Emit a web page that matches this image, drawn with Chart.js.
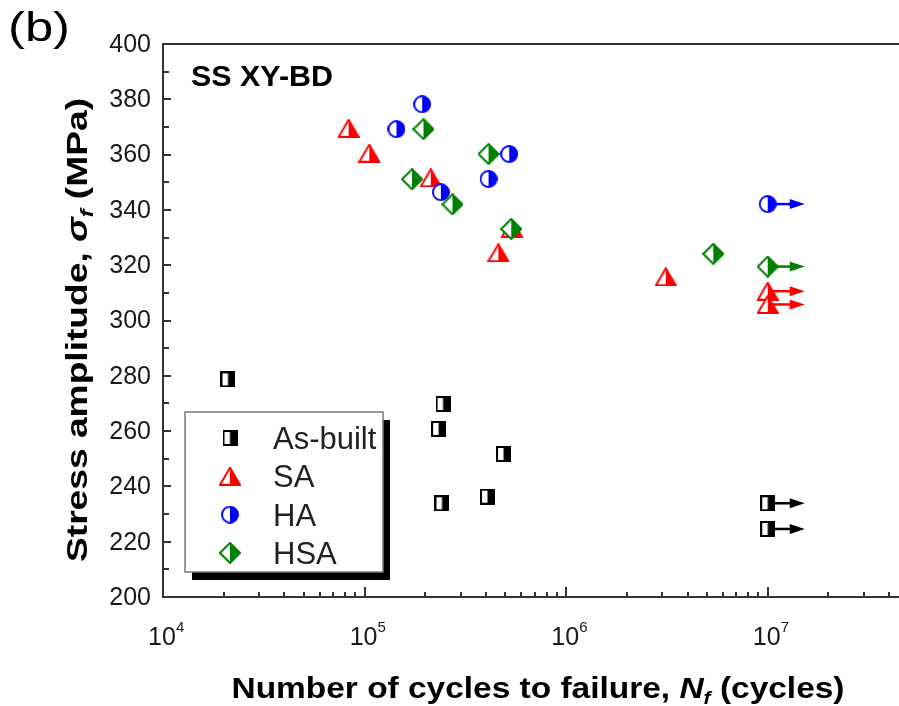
<!DOCTYPE html>
<html>
<head>
<meta charset="utf-8">
<script src="https://cdn.jsdelivr.net/npm/chart.js@4.4.0/dist/chart.umd.min.js"></script>
<style>
  body { margin: 0; background: #fff; }
  #wrap { width: 899px; height: 706px; }
</style>
</head>
<body>
<div id="wrap"><canvas id="snChart" width="899" height="706"></canvas></div>
<script>
// S-N data: cycles to failure and stress amplitude (MPa)
const asBuiltN = [2.1e4, 2.45e5, 2.33e5, 4.89e5, 4.07e5, 2.42e5, 1e7, 1e7];
const asBuiltS = [278.7, 269.8, 260.8, 251.7, 236.3, 233.9, 233.9, 224.6];
const asBuiltRunout = [false, false, false, false, false, false, true, true];

const saN = [8.33e4, 1.055e5, 2.13e5, 5.38e5, 4.61e5, 3.12e6, 1e7, 1e7];
const saS = [369.5, 360.5, 351.6, 333.3, 324.5, 315.8, 310.6, 305.8];
const saRunout = [false, false, false, false, false, false, true, true];

const haN = [1.93e5, 1.44e5, 5.22e5, 4.12e5, 2.39e5, 1e7];
const haS = [378.2, 369.2, 360.2, 351.2, 346.4, 342.1];
const haRunout = [false, false, false, false, false, true];

const hsaN = [1.96e5, 4.12e5, 1.72e5, 2.73e5, 5.34e5, 5.37e6, 1e7];
const hsaS = [369.2, 360.2, 351.1, 342.0, 333.1, 324.1, 319.5];
const hsaRunout = [false, false, false, false, false, false, true];

const seriesNames = ["As-built", "SA", "HA", "HSA"];
const seriesColors = ["#000000", "#ff0000", "#0000ff", "#008000"];
const yTickValues = [200, 220, 240, 260, 280, 300, 320, 340, 360, 380, 400];
const xDecades = [4, 5, 6, 7];

// half-filled marker images (left half open, right half solid)
function makeMarker(kind, color, w, h) {
  const c = document.createElement("canvas");
  c.width = w;
  c.height = h;
  const g = c.getContext("2d");
  const path = () => {
    g.beginPath();
    if (kind === "square") {
      g.rect(1, 1, w - 2, h - 2);
    } else if (kind === "triangle") {
      g.moveTo(w / 2, 1);
      g.lineTo(w - 1, h - 1);
      g.lineTo(1, h - 1);
      g.closePath();
    } else if (kind === "circle") {
      g.arc(w / 2, h / 2, w / 2 - 1, 0, Math.PI * 2);
    } else {
      g.moveTo(w / 2, 1);
      g.lineTo(w - 1, h / 2);
      g.lineTo(w / 2, h - 1);
      g.lineTo(1, h / 2);
      g.closePath();
    }
  };
  path();
  g.fillStyle = "#fff";
  g.fill();
  g.save();
  g.beginPath();
  g.rect(w / 2, 0, w / 2, h);
  g.clip();
  path();
  g.fillStyle = color;
  g.fill();
  g.restore();
  path();
  g.lineWidth = 2;
  g.strokeStyle = color;
  g.stroke();
  return c;
}

const markers = [
  makeMarker("square", seriesColors[0], 15, 16),
  makeMarker("triangle", seriesColors[1], 22, 19),
  makeMarker("circle", seriesColors[2], 18, 18),
  makeMarker("diamond", seriesColors[3], 22, 22),
];

const seriesN = [asBuiltN, saN, haN, hsaN];
const seriesS = [asBuiltS, saS, haS, hsaS];
const seriesRunout = [asBuiltRunout, saRunout, haRunout, hsaRunout];

const datasets = seriesNames.map((name, i) => ({
  label: name,
  data: seriesN[i].map((n, k) => ({ x: n, y: seriesS[i][k] })),
  showLine: false,
  pointStyle: markers[i],
  pointRadius: 9,
  order: 4 - i,
  runout: seriesRunout[i],
  color: seriesColors[i],
}));

const FONT = "'Liberation Sans', Arial, sans-serif";

// draws text made of several styled pieces, squeezed to a given width
function drawRich(ctx, parts, cx, baseline, width) {
  let total = 0;
  parts.forEach((p) => {
    ctx.font = p.font;
    p.w = ctx.measureText(p.t).width;
    total += p.w;
  });
  const sx = width / total;
  ctx.save();
  ctx.translate(cx - width / 2, baseline);
  ctx.scale(sx, 1);
  let x = 0;
  parts.forEach((p) => {
    ctx.font = p.font;
    ctx.fillText(p.t, x, p.dy || 0);
    x += p.w;
  });
  ctx.restore();
}

// runout arrows drawn from each runout point, under the markers
const runoutArrows = {
  id: "runoutArrows",
  beforeDatasetsDraw(chart) {
    const ctx = chart.ctx;
    chart.data.datasets.forEach((ds, i) => {
      const meta = chart.getDatasetMeta(i);
      ds.runout.forEach((flag, k) => {
        if (!flag) return;
        const pt = meta.data[k];
        ctx.save();
        ctx.strokeStyle = ds.color;
        ctx.fillStyle = ds.color;
        ctx.lineWidth = 2.5;
        ctx.beginPath();
        ctx.moveTo(pt.x, pt.y);
        ctx.lineTo(pt.x + 28, pt.y);
        ctx.stroke();
        ctx.beginPath();
        ctx.moveTo(pt.x + 22, pt.y - 5);
        ctx.lineTo(pt.x + 37, pt.y);
        ctx.lineTo(pt.x + 22, pt.y + 5);
        ctx.closePath();
        ctx.fill();
        ctx.restore();
      });
    });
  },
};

// frame, inward ticks, tick labels, titles, note and legend
const decorations = {
  id: "decorations",
  afterDraw(chart) {
    const ctx = chart.ctx;
    const a = chart.chartArea;
    const xs = chart.scales.x;
    const ys = chart.scales.y;
    ctx.save();
    ctx.strokeStyle = "#333";
    ctx.lineWidth = 2;
    ctx.beginPath();
    ctx.moveTo(a.right + 2, a.top);
    ctx.lineTo(a.left, a.top);
    ctx.lineTo(a.left, a.bottom);
    ctx.lineTo(a.right + 2, a.bottom);
    ctx.stroke();

    // y ticks every 10 MPa
    ctx.lineWidth = 2;
    for (let v = ys.min + 10; v < ys.max; v += 10) {
      const py = Math.round(ys.getPixelForValue(v));
      const len = v % 20 === 0 ? 8 : 6;
      ctx.beginPath();
      ctx.moveTo(a.left, py);
      ctx.lineTo(a.left + len, py);
      ctx.stroke();
    }
    // x ticks: decades and 2..9 minors
    for (let d = 4; d <= 7; d++) {
      for (let m = 1; m <= 9; m++) {
        const v = m * Math.pow(10, d);
        if (v <= xs.min && m > 1) continue;
        if (v >= xs.max) continue;
        const px = Math.round(xs.getPixelForValue(v));
        const len = m === 1 ? 10 : 5;
        ctx.beginPath();
        ctx.moveTo(px, a.bottom);
        ctx.lineTo(px, a.bottom - len);
        ctx.stroke();
      }
    }

    ctx.fillStyle = "#1a1a1a";
    // y tick labels
    ctx.font = "25px " + FONT;
    ctx.textAlign = "right";
    ctx.textBaseline = "middle";
    yTickValues.forEach((v) => {
      ctx.fillText(String(v), 151, ys.getPixelForValue(v) + 1);
    });
    // x tick labels 10^n
    ctx.textBaseline = "alphabetic";
    xDecades.forEach((d) => {
      const px = xs.getPixelForValue(Math.pow(10, d));
      ctx.font = "25px " + FONT;
      ctx.textAlign = "center";
      ctx.fillText("10", px - 1, 645);
      ctx.font = "15px " + FONT;
      ctx.textAlign = "left";
      ctx.fillText(String(d), px + 13, 632);
    });

    // axis titles
    ctx.textAlign = "left";
    ctx.fillStyle = "#000";
    const bold = "bold 30px " + FONT;
    const boldIt = "italic bold 30px " + FONT;
    const sub = "italic bold 19px " + FONT;
    drawRich(ctx, [
      { t: "Number of cycles to failure, ", font: bold },
      { t: "N", font: boldIt },
      { t: "f", font: sub, dy: 6 },
      { t: " (cycles)", font: bold },
    ], 538, 698, 613);

    ctx.save();
    ctx.translate(87, 330);
    ctx.rotate(-Math.PI / 2);
    drawRich(ctx, [
      { t: "Stress amplitude, ", font: bold },
      { t: "\u03c3", font: boldIt },
      { t: "f", font: sub, dy: 6 },
      { t: " (MPa)", font: bold },
    ], 0, 0, 464);
    ctx.restore();

    // panel letter and specimen note
    drawRich(ctx, [{ t: "(b)", font: "40px " + FONT }], 39, 41, 62);
    drawRich(ctx, [{ t: "SS XY-BD", font: "bold 29px " + FONT }], 262, 86, 142);

    // legend box with drop shadow
    const bx = 185, by = 412, bw = 198, bh = 160;
    ctx.fillStyle = "#000";
    ctx.fillRect(bx + 7, by + 8, bw, bh);
    ctx.fillStyle = "#fff";
    ctx.fillRect(bx, by, bw, bh);
    ctx.strokeStyle = "#777";
    ctx.lineWidth = 1.5;
    ctx.strokeRect(bx, by, bw, bh);
    ctx.fillStyle = "#222";
    ctx.textBaseline = "alphabetic";
    seriesNames.forEach((name, i) => {
      const ry = by + 26 + i * 38.3;
      const mk = markers[i];
      ctx.drawImage(mk, 230 - mk.width / 2, ry - mk.height / 2);
      ctx.font = "31px " + FONT;
      ctx.fillText(name, 273, ry + 11);
    });
    ctx.restore();
  },
};

new Chart(document.getElementById("snChart"), {
  type: "scatter",
  data: { datasets: datasets },
  options: {
    responsive: false,
    animation: false,
    events: [],
    layout: { autoPadding: false, padding: { left: 163, top: 44, right: 0, bottom: 109 } },
    scales: {
      x: { type: "logarithmic", min: 1e4, max: 4.48e7, display: false },
      y: { type: "linear", min: 200, max: 400, display: false },
    },
    plugins: {
      legend: { display: false },
      tooltip: { enabled: false },
    },
  },
  plugins: [runoutArrows, decorations],
});
</script>
</body>
</html>
